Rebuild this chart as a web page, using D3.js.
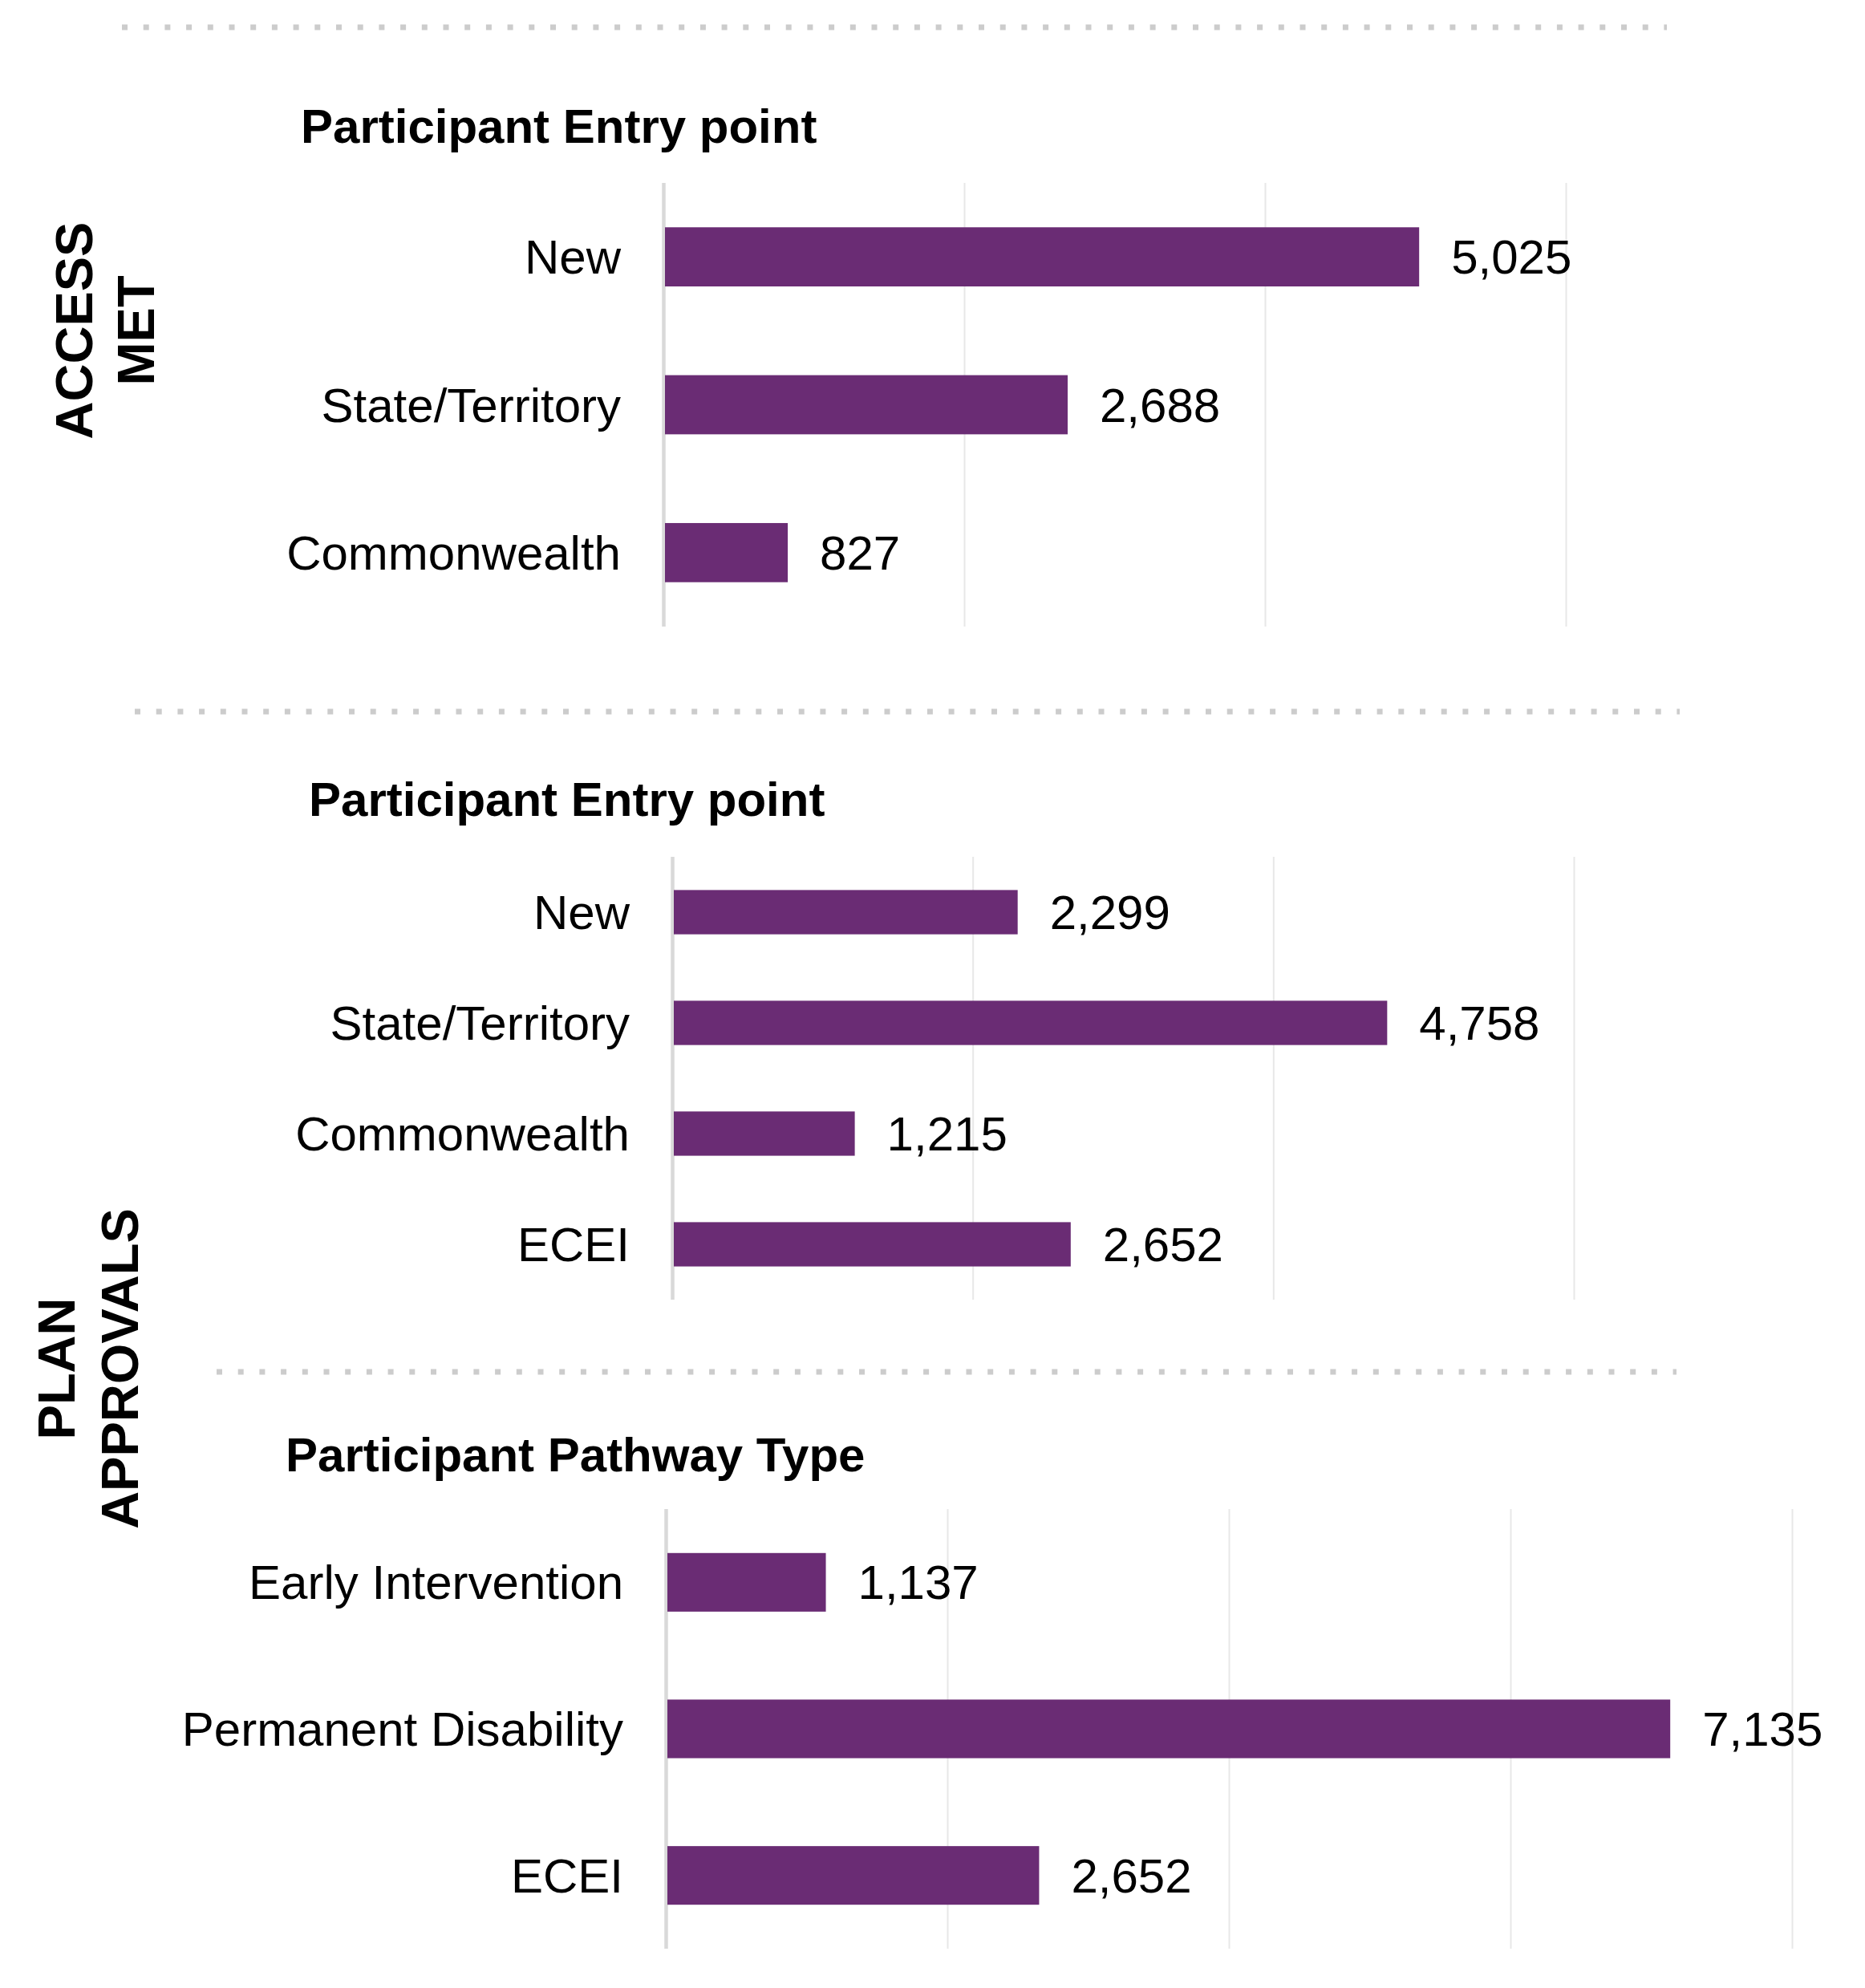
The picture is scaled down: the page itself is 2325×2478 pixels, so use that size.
<!DOCTYPE html>
<html>
<head>
<meta charset="utf-8">
<script src="https://cdn.jsdelivr.net/npm/d3@7.9.0/dist/d3.min.js"></script>
<style>
  html, body { margin: 0; padding: 0; background: #fff; }
  svg { display: block; font-family: "Liberation Sans", Arial, sans-serif; }
</style>
</head>
<body>
<svg id="chart" width="2325" height="2478"></svg>
<script>
// ACCESS MET - entry point
const accessCats = ['New', 'State/Territory', 'Commonwealth'];
const accessValues = [5025, 2688, 827];

// PLAN APPROVALS - entry point
const planEntryCats = ['New', 'State/Territory', 'Commonwealth', 'ECEI'];
const planEntryValues = [2299, 4758, 1215, 2652];

// PLAN APPROVALS - pathway type
const pathwayCats = ['Early Intervention', 'Permanent Disability', 'ECEI'];
const pathwayValues = [1137, 7135, 2652];

const xTicks1 = [0, 2000, 4000, 6000];
const xTicks3 = [0, 2000, 4000, 6000, 8000];

const purple = '#6a2c74';
const svg = d3.select('#chart');

function dotted(y, xa, xb) {
  svg.append('line')
    .attr('x1', xa).attr('x2', xb)
    .attr('y1', y).attr('y2', y)
    .attr('stroke', '#cccccc')
    .attr('stroke-width', 7)
    .attr('stroke-dasharray', '7 19.7');
}

function panel(cfg) {
  const x = d3.scaleLinear().domain([0, cfg.max]).range([cfg.x0, cfg.x1]);
  const y = d3.scaleBand().domain(cfg.cats).range([cfg.y0, cfg.y1])
    .paddingInner(0.6).paddingOuter(0.3);

  svg.append('text')
    .attr('x', cfg.titleX).attr('y', cfg.titleY)
    .attr('font-size', 60).attr('font-weight', 'bold')
    .attr('fill', '#000')
    .text(cfg.title);

  // gridlines
  const grid = svg.append('g')
    .attr('transform', `translate(0,${cfg.y1})`)
    .call(d3.axisBottom(x).tickValues(cfg.ticks).tickSize(-(cfg.y1 - cfg.y0)).tickFormat(''));
  grid.select('.domain').remove();
  grid.selectAll('.tick line')
    .attr('stroke', (d) => d === 0 ? '#d9d9d9' : '#e8e8e8')
    .attr('stroke-width', (d) => d === 0 ? 4.5 : 2);

  svg.append('g').selectAll('rect')
    .data(cfg.values)
    .join('rect')
    .attr('x', x(0) + 2)
    .attr('y', (d, i) => y(cfg.cats[i]))
    .attr('width', (d) => x(d) - x(0) - 2)
    .attr('height', y.bandwidth())
    .attr('fill', purple);

  svg.append('g').selectAll('text')
    .data(cfg.cats)
    .join('text')
    .attr('x', x(0) - 53)
    .attr('y', (d) => y(d) + y.bandwidth() / 2 + 21)
    .attr('text-anchor', 'end')
    .attr('font-size', 60)
    .attr('fill', '#000')
    .text((d) => d);

  svg.append('g').selectAll('text')
    .data(cfg.values)
    .join('text')
    .attr('x', (d) => x(d) + 40)
    .attr('y', (d, i) => y(cfg.cats[i]) + y.bandwidth() / 2 + 21)
    .attr('font-size', 60)
    .attr('fill', '#000')
    .text((d) => d3.format(',')(d));
}

function sideLabel(lines, xs, cy) {
  lines.forEach((t, i) => {
    svg.append('text')
      .attr('transform', `translate(${xs[i]},${cy}) rotate(-90)`)
      .attr('text-anchor', 'middle')
      .attr('font-size', 65)
      .attr('font-weight', 'bold')
      .attr('fill', '#000')
      .text(t);
  });
}

dotted(34, 152, 2078);
dotted(887, 168, 2094);
dotted(1710, 270, 2090);

panel({ title: 'Participant Entry point', titleX: 375, titleY: 178,
  cats: accessCats, values: accessValues, max: 6000, ticks: xTicks1,
  x0: 827, x1: 1952, y0: 228, y1: 781 });

panel({ title: 'Participant Entry point', titleX: 385, titleY: 1017,
  cats: planEntryCats, values: planEntryValues, max: 6000, ticks: xTicks1,
  x0: 838, x1: 1962, y0: 1068, y1: 1620 });

panel({ title: 'Participant Pathway Type', titleX: 356, titleY: 1834,
  cats: pathwayCats, values: pathwayValues, max: 8000, ticks: xTicks3,
  x0: 830, x1: 2234, y0: 1881, y1: 2429 });

sideLabel(['ACCESS', 'MET'], [115, 192], 412);
sideLabel(['PLAN', 'APPROVALS'], [93, 172], 1706);
</script>
</body>
</html>
